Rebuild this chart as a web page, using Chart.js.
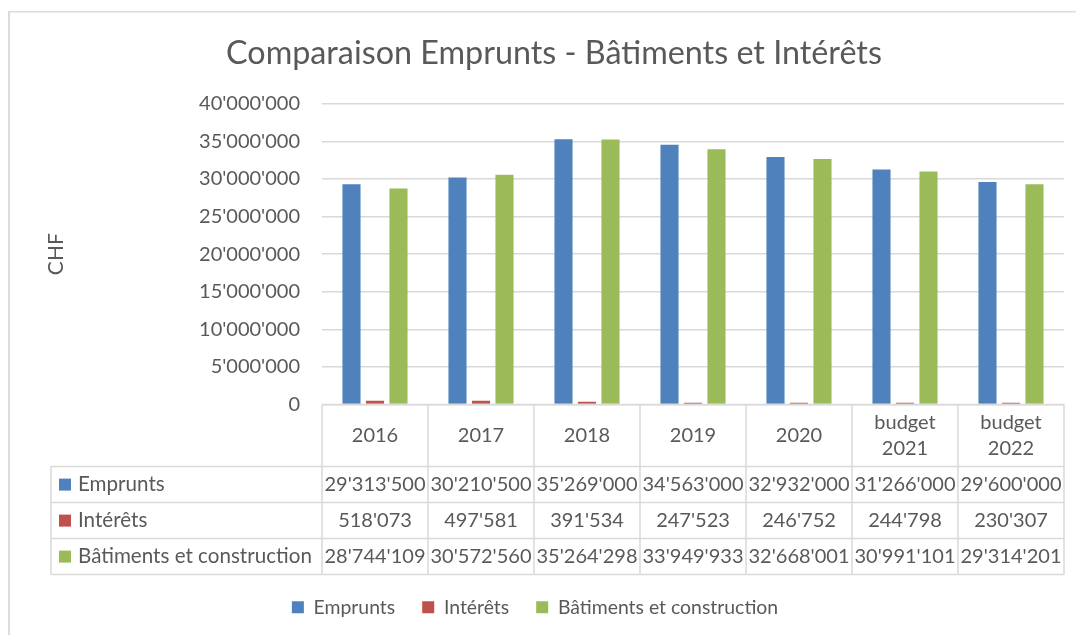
<!DOCTYPE html>
<html>
<head>
<meta charset="utf-8">
<title>Comparaison Emprunts - Bâtiments et Intérêts</title>
<script src="https://cdn.jsdelivr.net/npm/chart.js@4/dist/chart.umd.min.js"></script>
<style>
  body { margin: 0; background: #fff; }
  canvas { display: block; }
</style>
</head>
<body>
<canvas id="chart" width="1076" height="635"></canvas>
<script>
// données
var categories = ["2016", "2017", "2018", "2019", "2020", ["budget", "2021"], ["budget", "2022"]];
var emprunts = [29313500, 30210500, 35269000, 34563000, 32932000, 31266000, 29600000];
var interets = [518073, 497581, 391534, 247523, 246752, 244798, 230307];
var batiments = [28744109, 30572560, 35264298, 33949933, 32668001, 30991101, 29314201];
var seriesNames = ["Emprunts", "Intérêts", "Bâtiments et construction"];
var seriesColors = ["#4f81bd", "#c0504d", "#9bbb59"];

var FONT = "Lato, sans-serif";
var TEXT = "#595959";
var LINE = "#d9d9d9";

// séparateur des milliers à la suisse : 29'313'500
function fmt(n) {
  return String(n).replace(/\B(?=(\d{3})+(?!\d))/g, "'");
}

// cadre gris autour du graphique
var frame = {
  id: "frame",
  beforeDraw: function (chart) {
    var ctx = chart.ctx;
    ctx.save();
    ctx.fillStyle = "#dcdcdc";
    ctx.fillRect(8, 11, 2, chart.height - 11);
    ctx.fillRect(8, 11, chart.width - 8, 1.5);
    ctx.restore();
  },
  afterLayout: function (chart) {
    // Excel centre la légende un peu plus à gauche
    chart.legend.left -= 19;
    chart.legend.right -= 19;
  }
};

// tableau de données sous l'axe des x
var dataTable = {
  id: "dataTable",
  afterDraw: function (chart) {
    var ctx = chart.ctx;
    var x = chart.scales.x;
    var n = chart.data.labels.length;
    var colW = (x.right - x.left) / n;
    var top = chart.chartArea.bottom;
    var headH = 62, rowH = 36, left = 51;
    var sets = chart.data.datasets;
    var bottom = top + headH + rowH * sets.length;

    ctx.save();
    ctx.strokeStyle = LINE;
    ctx.lineWidth = 1.5;
    ctx.beginPath();
    ctx.moveTo(x.left, top);
    ctx.lineTo(x.right, top);
    for (var r = 0; r <= sets.length; r++) {
      var yy = top + headH + r * rowH;
      ctx.moveTo(left, yy);
      ctx.lineTo(x.right, yy);
    }
    for (var i = 0; i <= n; i++) {
      var xx = x.left + i * colW;
      ctx.moveTo(xx, top);
      ctx.lineTo(xx, bottom);
    }
    ctx.moveTo(left, top + headH);
    ctx.lineTo(left, bottom);
    ctx.stroke();

    ctx.fillStyle = TEXT;
    ctx.font = "20px " + FONT;
    ctx.textAlign = "center";
    ctx.textBaseline = "middle";

    // en-têtes
    chart.data.labels.forEach(function (lab, i) {
      var cx = x.getPixelForValue(i);
      var lines = Array.isArray(lab) ? lab : [lab];
      var y0 = top + headH / 2 - (lines.length - 1) * 13;
      lines.forEach(function (t, k) {
        ctx.fillText(t, cx, y0 + k * 26);
      });
    });

    // lignes de valeurs
    sets.forEach(function (ds, r) {
      var cy = top + headH + r * rowH + rowH / 2;
      ctx.fillStyle = ds.backgroundColor;
      ctx.fillRect(59, cy - 6, 12, 12);
      ctx.fillStyle = TEXT;
      ctx.textAlign = "left";
      ctx.font = "20.6px " + FONT;
      ctx.fillText(ds.label, 78, cy);
      ctx.textAlign = "center";
      ctx.font = "20px " + FONT;
      ds.data.forEach(function (v, i) {
        ctx.fillText(fmt(v), x.getPixelForValue(i), cy);
      });
    });
    ctx.restore();
  }
};

var ctx = document.getElementById("chart").getContext("2d");
new Chart(ctx, {
  type: "bar",
  data: {
    labels: categories,
    datasets: [
      { label: seriesNames[0], data: emprunts, backgroundColor: seriesColors[0] },
      { label: seriesNames[1], data: interets, backgroundColor: seriesColors[1] },
      { label: seriesNames[2], data: batiments, backgroundColor: seriesColors[2] }
    ]
  },
  options: {
    responsive: false,
    devicePixelRatio: 1,
    animation: false,
    categoryPercentage: 0.665,
    barPercentage: 0.77,
    layout: { padding: { left: 44, right: 12, top: 0, bottom: 8 } },
    plugins: {
      title: {
        display: true,
        text: "Comparaison Emprunts - Bâtiments et Intérêts",
        color: TEXT,
        font: { family: FONT, size: 32.3, weight: "normal" },
        padding: { top: 34, bottom: 31 }
      },
      legend: {
        position: "bottom",
        labels: {
          color: TEXT,
          font: { family: FONT, size: 19.4 },
          boxWidth: 12,
          boxHeight: 12,
          padding: 27
        }
      },
      tooltip: { enabled: false }
    },
    scales: {
      x: {
        ticks: { display: false },
        grid: { display: false },
        border: { display: false },
        afterFit: function (s) { s.height = 166; }
      },
      y: {
        min: 0,
        max: 40000000,
        ticks: {
          stepSize: 5000000,
          padding: 22,
          color: TEXT,
          font: { family: FONT, size: 20 },
          callback: function (v) { return fmt(v); }
        },
        grid: { color: LINE, lineWidth: 1.5, drawTicks: false },
        border: { display: false },
        title: {
          display: true,
          text: "CHF",
          color: TEXT,
          font: { family: FONT, size: 21 },
          padding: 0
        },
        afterFit: function (s) { s.width = 278; }
      }
    }
  },
  plugins: [frame, dataTable]
});
</script>
</body>
</html>
